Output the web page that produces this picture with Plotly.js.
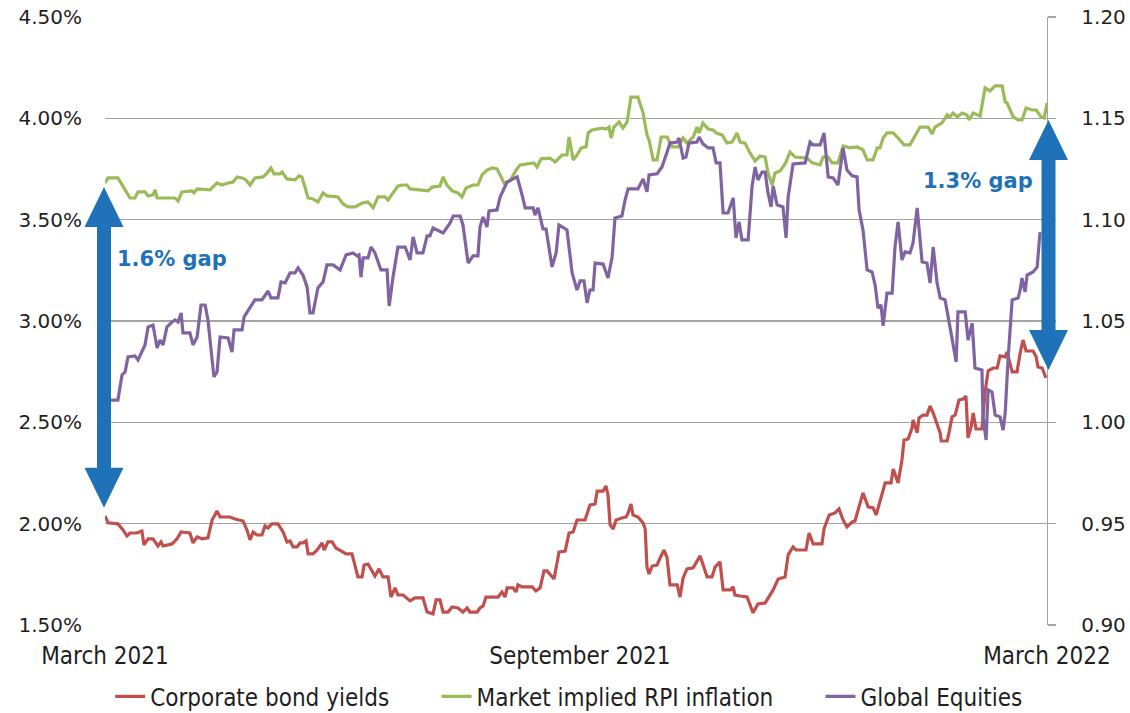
<!DOCTYPE html>
<html><head><meta charset="utf-8">
<script src="https://cdn.plot.ly/plotly-3.0.1.min.js"></script>
<style>html,body{margin:0;padding:0;background:#fff}#chart{width:1130px;height:713px}</style>
</head><body><div id="chart"></div>
<script>
// ---- data (x = days since 1 March 2021) ----
const corpDays = [0.0,1.2,5.0,7.0,8.5,9.7,12.4,14.3,15.1,16.7,18.6,20.5,21.7,22.5,26.0,27.9,29.5,32.9,34.1,35.7,37.6,39.9,41.5,43.4,44.6,48.4,50.4,53.5,55.0,56.2,57.4,58.9,60.8,62.0,63.2,64.7,67.0,69.0,70.5,71.7,72.9,74.4,75.6,76.7,77.9,78.7,80.6,82.2,84.1,84.9,86.4,88.0,89.5,91.8,93.4,95.7,96.5,98.0,99.6,100.4,101.9,103.5,104.6,106.2,107.7,109.7,110.8,112.4,113.5,115.5,118.2,120.1,123.2,124.8,127.1,128.3,129.8,131.0,132.9,134.5,136.8,138.7,140.3,141.4,144.2,145.3,146.5,147.6,152.3,153.8,155.0,155.8,158.1,159.3,160.0,161.6,165.5,167.0,168.6,170.1,171.3,174.0,175.9,178.3,179.8,181.4,182.9,186.0,187.9,189.9,190.7,193.0,194.1,194.9,195.7,196.9,198.0,200.3,201.9,202.7,203.8,204.6,206.5,208.5,209.3,210.0,210.8,212.0,213.9,215.1,216.6,217.8,218.9,221.7,222.8,224.0,225.5,227.9,230.6,233.3,235.2,236.4,238.3,239.5,242.2,243.4,244.1,246.1,248.8,251.1,253.0,255.8,257.3,258.9,260.8,263.5,264.7,266.6,267.8,271.6,272.8,274.4,277.8,278.6,280.6,282.9,284.4,286.0,287.5,289.5,290.6,292.2,293.7,295.7,297.6,298.8,300.3,302.3,304.6,305.4,306.5,307.3,308.8,309.6,311.2,312.7,313.1,314.7,315.4,317.0,318.5,319.7,320.9,322.4,323.6,324.0,326.3,327.1,328.2,329.4,330.2,330.9,332.5,333.6,334.4,335.6,336.4,337.5,339.8,341.0,342.2,344.1,345.7,346.8,348.8,349.5,351.5,353.4,354.6,355.7,356.9,359.6,360.8,361.5,363.1,364.6];
const corpYield = [2.038,2.004,1.999,1.969,1.939,1.954,1.954,1.964,1.895,1.925,1.925,1.890,1.910,1.890,1.900,1.925,1.959,1.954,1.905,1.934,1.925,1.930,2.018,2.063,2.033,2.033,2.023,2.013,1.969,1.920,1.959,1.944,1.944,1.989,1.979,1.999,1.999,1.959,1.910,1.915,1.885,1.885,1.905,1.905,1.915,1.851,1.851,1.870,1.905,1.870,1.910,1.910,1.880,1.865,1.851,1.851,1.806,1.737,1.737,1.796,1.801,1.762,1.742,1.777,1.737,1.737,1.638,1.683,1.648,1.648,1.619,1.634,1.634,1.564,1.555,1.624,1.624,1.564,1.564,1.589,1.584,1.564,1.584,1.564,1.564,1.584,1.594,1.638,1.638,1.663,1.638,1.683,1.683,1.663,1.698,1.688,1.688,1.668,1.683,1.767,1.767,1.727,1.860,1.865,1.954,1.959,2.018,2.018,2.092,2.097,2.161,2.161,2.186,2.142,1.994,1.974,2.018,2.028,2.033,2.053,2.097,2.043,2.033,2.004,1.974,1.786,1.752,1.791,1.796,1.831,1.870,1.831,1.698,1.698,1.638,1.732,1.777,1.782,1.841,1.737,1.737,1.786,1.811,1.673,1.673,1.688,1.648,1.643,1.638,1.560,1.604,1.609,1.643,1.673,1.727,1.737,1.846,1.885,1.870,1.870,1.954,1.900,1.900,1.974,2.043,2.053,2.073,2.018,1.984,2.009,2.013,2.092,2.152,2.083,2.078,2.043,2.107,2.201,2.201,2.270,2.231,2.201,2.314,2.413,2.418,2.472,2.512,2.448,2.522,2.536,2.536,2.581,2.546,2.497,2.448,2.408,2.408,2.453,2.527,2.536,2.576,2.610,2.615,2.630,2.423,2.477,2.546,2.467,2.467,2.650,2.754,2.768,2.768,2.828,2.823,2.847,2.749,2.749,2.842,2.906,2.852,2.852,2.823,2.773,2.768,2.719];

const rpiDays = [0.0,1.2,5.0,9.7,11.6,12.8,15.5,16.7,18.6,19.4,20.2,23.3,27.1,28.3,29.8,33.7,34.5,35.7,40.7,43.4,45.3,47.7,49.6,51.2,53.1,54.6,56.2,58.1,61.2,62.8,64.3,65.5,67.8,68.6,70.5,73.6,75.2,76.3,78.7,80.6,82.5,84.5,86.0,90.3,92.2,94.2,96.9,99.6,101.9,103.9,105.8,108.5,109.7,111.6,113.5,115.5,117.0,118.2,122.1,125.2,126.7,129.8,131.0,132.5,134.5,136.8,138.3,139.9,142.6,144.5,146.1,148.0,150.0,151.9,153.1,154.6,156.9,159.3,160.8,164.7,166.2,167.4,169.0,172.4,174.4,177.1,179.0,179.8,181.4,182.9,184.5,186.4,187.2,188.7,192.6,194.1,195.3,196.1,197.2,199.2,200.7,202.3,203.8,206.5,208.5,210.0,210.8,212.4,213.9,215.5,217.8,219.7,222.1,224.0,225.5,227.9,229.4,230.2,231.7,233.7,235.6,236.8,239.1,241.0,243.0,244.9,246.1,248.0,249.9,251.9,253.8,255.8,256.9,258.5,259.6,261.6,263.9,265.4,267.4,272.0,274.0,277.1,278.2,280.2,281.7,284.0,286.0,288.7,291.4,293.7,295.3,297.6,299.2,300.3,301.5,303.0,305.4,307.3,309.6,311.9,313.9,315.8,318.9,320.5,321.6,324.3,326.3,327.4,328.6,330.2,332.1,334.0,334.8,336.4,339.1,341.0,342.9,344.9,347.6,348.8,349.5,351.9,353.8,355.3,356.9,359.2,360.8,362.7,363.9,365.0];
const rpiInflation = [3.681,3.706,3.706,3.607,3.607,3.637,3.637,3.617,3.622,3.647,3.607,3.607,3.607,3.592,3.637,3.642,3.632,3.652,3.647,3.681,3.671,3.681,3.686,3.711,3.706,3.696,3.671,3.706,3.711,3.730,3.755,3.726,3.726,3.735,3.701,3.696,3.716,3.711,3.607,3.602,3.587,3.632,3.617,3.612,3.578,3.563,3.563,3.582,3.587,3.558,3.612,3.612,3.597,3.632,3.666,3.671,3.671,3.652,3.647,3.642,3.661,3.666,3.711,3.671,3.642,3.632,3.612,3.656,3.671,3.671,3.721,3.745,3.755,3.750,3.721,3.681,3.691,3.745,3.770,3.775,3.780,3.760,3.800,3.804,3.785,3.819,3.819,3.908,3.795,3.819,3.854,3.859,3.928,3.943,3.952,3.947,3.957,3.903,3.957,3.982,3.952,3.982,4.105,4.105,4.026,3.918,3.893,3.795,3.795,3.908,3.908,3.859,3.859,3.903,3.878,3.908,3.957,3.928,3.977,3.947,3.943,3.928,3.918,3.878,3.883,3.928,3.883,3.878,3.829,3.790,3.814,3.809,3.730,3.671,3.730,3.740,3.785,3.834,3.809,3.804,3.780,3.770,3.809,3.809,3.780,3.780,3.864,3.854,3.859,3.844,3.795,3.795,3.854,3.854,3.903,3.928,3.928,3.903,3.869,3.869,3.918,3.957,3.957,3.923,3.957,3.977,4.017,4.007,4.026,4.007,4.026,4.017,3.992,4.026,4.012,4.150,4.135,4.160,4.160,4.081,4.076,4.007,3.992,3.992,4.051,4.041,4.041,4.007,4.002,4.076];

const equityDays = [1.9,5.0,6.6,7.8,8.9,11.6,12.8,14.3,15.5,16.7,18.6,20.2,21.3,22.5,24.0,26.0,27.1,28.3,29.5,30.2,32.9,34.1,35.7,37.2,38.8,39.9,41.5,42.2,43.4,44.6,47.7,49.2,50.0,53.1,53.9,56.2,58.1,60.8,63.2,64.3,67.0,68.2,69.8,71.7,73.6,74.8,76.7,78.3,79.4,80.6,82.5,84.5,86.0,88.4,91.1,93.4,96.1,97.7,98.4,99.2,100.0,101.9,103.1,104.6,106.9,109.3,110.1,111.6,113.5,116.3,118.2,119.4,120.9,123.2,124.8,125.9,127.1,131.0,133.7,134.9,137.6,138.7,140.7,142.6,144.5,145.3,146.5,148.0,148.8,151.9,153.1,155.8,158.9,159.7,161.6,162.8,165.9,166.6,167.8,169.7,170.9,173.2,174.8,175.9,179.0,181.0,182.9,184.1,185.6,186.8,187.9,189.1,189.9,193.0,194.9,196.5,197.6,200.3,201.5,202.7,206.5,208.5,210.0,210.8,213.9,215.8,217.8,218.9,221.7,222.4,224.0,225.1,226.3,229.4,230.2,231.7,233.7,235.6,236.8,238.3,239.5,241.4,243.4,244.5,245.7,246.8,249.2,250.7,251.9,253.0,254.6,255.8,256.9,258.1,258.9,260.4,262.7,263.9,264.7,266.6,271.3,273.2,274.4,277.1,278.6,280.2,282.1,284.0,286.0,287.5,289.5,291.4,292.2,293.7,295.3,297.2,298.4,299.5,300.7,301.5,303.0,305.0,306.1,307.3,308.8,310.0,311.9,313.1,314.7,316.6,318.5,319.7,320.9,322.4,323.6,325.5,327.4,328.6,329.8,330.5,333.3,334.4,336.0,337.1,339.8,340.2,341.4,342.2,343.7,344.9,346.8,348.0,348.8,349.9,351.5,353.8,354.6,355.3,356.5,357.3,359.6,361.2,362.3];
const equityIndex = [1.0110,1.0110,1.0234,1.0249,1.0323,1.0328,1.0308,1.0347,1.0382,1.0471,1.0480,1.0367,1.0406,1.0382,1.0471,1.0495,1.0505,1.0495,1.0540,1.0441,1.0441,1.0382,1.0421,1.0579,1.0579,1.0505,1.0323,1.0224,1.0249,1.0421,1.0416,1.0347,1.0456,1.0456,1.0520,1.0564,1.0604,1.0604,1.0648,1.0614,1.0614,1.0693,1.0688,1.0737,1.0737,1.0762,1.0727,1.0668,1.0540,1.0540,1.0663,1.0693,1.0777,1.0777,1.0752,1.0826,1.0836,1.0821,1.0826,1.0717,1.0811,1.0811,1.0865,1.0836,1.0752,1.0752,1.0574,1.0717,1.0865,1.0865,1.0801,1.0915,1.0836,1.0836,1.0920,1.0920,1.0959,1.0934,1.0984,1.1018,1.1018,1.0974,1.0786,1.0821,1.0821,1.0964,1.1013,1.0964,1.1043,1.1048,1.1112,1.1186,1.1206,1.1211,1.1122,1.1058,1.1058,1.1023,1.1058,1.0954,1.0954,1.0767,1.0836,1.0974,1.0949,1.0737,1.0653,1.0698,1.0698,1.0589,1.0653,1.0653,1.0786,1.0781,1.0712,1.0816,1.1008,1.1018,1.1097,1.1152,1.1152,1.1201,1.1137,1.1221,1.1226,1.1260,1.1334,1.1378,1.1383,1.1403,1.1304,1.1309,1.1378,1.1383,1.1408,1.1374,1.1354,1.1354,1.1280,1.1280,1.1033,1.1033,1.1107,1.0910,1.0989,1.0900,1.0900,1.1161,1.1260,1.1196,1.1235,1.1235,1.1132,1.1063,1.1166,1.1073,1.1063,1.0910,1.1112,1.1275,1.1280,1.1383,1.1369,1.1369,1.1428,1.1211,1.1206,1.1171,1.1354,1.1245,1.1216,1.1211,1.1048,1.0949,1.0752,1.0742,1.0678,1.0564,1.0579,1.0476,1.0638,1.0638,1.0865,1.0989,1.0801,1.0841,1.0836,1.0885,1.1058,1.0791,1.0786,1.0688,1.0865,1.0688,1.0614,1.0604,1.0471,1.0372,1.0298,1.0545,1.0545,1.0406,1.0490,1.0268,1.0258,1.0027,0.9913,1.0160,1.0150,1.0036,1.0027,0.9962,1.0046,1.0308,1.0604,1.0614,1.0653,1.0712,1.0643,1.0727,1.0742,1.0767,1.0939];

const seriesNames = ['Corporate bond yields','Market implied RPI inflation','Global Equities'];
const xTickVals = [0, 184, 365];
const xTickText = ['March 2021','September 2021','March 2022'];
// gap annotations: arrow ends on the left (% yield) axis
const gapNotes = [
  {text:'1.6% gap', labelDay:26, labelValue:3.306, top:3.661, bottom:2.078, side:'left'},
  {text:'1.3% gap', labelDay:338.3, labelValue:3.691, top:3.992, bottom:2.758, side:'right'}
];

// ---- styling ----
const RED='#C0504D', GREEN='#9BBB59', PURPLE='#8064A2', BLUE='#1F72B8';
const GRID='#A3A3A3';
const TXT='#1f1f1f';
const condensed='"DejaVu Sans Condensed", "Liberation Sans Narrow", "DejaVu Sans", sans-serif';
const yRange=[1.5,4.5];
const W=1130,H=713, M={l:105,r:83,t:17,b:88};
const plotW=W-M.l-M.r, plotH=H-M.t-M.b;
const legendX=[0.0055, 0.352, 0.7595];

const traces=[
  {x:corpDays,y:corpYield,name:seriesNames[0],type:'scatter',mode:'lines',line:{color:RED,width:3.2},yaxis:'y',legend:'legend'},
  {x:rpiDays,y:rpiInflation,name:seriesNames[1],type:'scatter',mode:'lines',line:{color:GREEN,width:3.2},yaxis:'y',legend:'legend2'},
  {x:equityDays,y:equityIndex,name:seriesNames[2],type:'scatter',mode:'lines',line:{color:PURPLE,width:3.2},yaxis:'y2',legend:'legend3'}
];

const toPaperY=v=>(v-yRange[0])/(yRange[1]-yRange[0]);
const headLen=40, headHalf=19.5, shaftW=14;
const headPaper=headLen/plotH;
const shapes=[], annotations=[];
gapNotes.forEach(g=>{
  const xp = g.side==='left' ? -1/plotW : 1.5/plotW+1;
  const yt=toPaperY(g.top), yb=toPaperY(g.bottom);
  shapes.push({type:'line',xref:'paper',yref:'paper',x0:xp,x1:xp,y0:yt-headPaper+0.004,y1:yb+headPaper-0.004,line:{color:BLUE,width:shaftW},layer:'above'});
  shapes.push({type:'path',xref:'paper',yref:'paper',xsizemode:'pixel',ysizemode:'pixel',xanchor:xp,yanchor:yt,
    path:'M'+(-headHalf)+','+(-headLen)+' L'+headHalf+','+(-headLen)+' L0,0 Z',fillcolor:BLUE,line:{width:0},layer:'above'});
  shapes.push({type:'path',xref:'paper',yref:'paper',xsizemode:'pixel',ysizemode:'pixel',xanchor:xp,yanchor:yb,
    path:'M'+(-headHalf)+','+headLen+' L'+headHalf+','+headLen+' L0,0 Z',fillcolor:BLUE,line:{width:0},layer:'above'});
  annotations.push({text:'<b>'+g.text+'</b>',x:g.labelDay,y:g.labelValue,xref:'x',yref:'y',showarrow:false,
    font:{family:'"DejaVu Sans", sans-serif',size:21,color:BLUE},xanchor:'center',yanchor:'middle'});
});

const legendBase={orientation:'h',xanchor:'left',y:-0.118,yanchor:'middle',
  font:{family:condensed,size:24,color:TXT},itemwidth:30,bgcolor:'rgba(0,0,0,0)'};

const layout={
  width:W,height:H,
  margin:{l:M.l,r:M.r,t:M.t,b:M.b,autoexpand:false},
  paper_bgcolor:'#fff',plot_bgcolor:'#fff',
  showlegend:true,
  legend:Object.assign({},legendBase,{x:legendX[0]}),
  legend2:Object.assign({},legendBase,{x:legendX[1]}),
  legend3:Object.assign({},legendBase,{x:legendX[2]}),
  xaxis:{range:[0,365],tickvals:xTickVals,ticktext:xTickText,showgrid:false,zeroline:false,showline:false,
    ticks:'',tickfont:{family:condensed,size:24,color:TXT},ticklabelstandoff:14},
  yaxis:{range:yRange,dtick:0.5,tick0:1.5,tickformat:'.2f',ticksuffix:'%',showgrid:true,gridcolor:GRID,gridwidth:1.3,
    zeroline:false,showline:false,ticks:'',tickfont:{family:'"DejaVu Sans", sans-serif',size:20,color:TXT},ticklabelstandoff:22},
  yaxis2:{range:[0.9,1.2],dtick:0.05,tick0:0.9,tickformat:'.2f',overlaying:'y',side:'right',showgrid:false,zeroline:false,
    showline:true,linecolor:GRID,linewidth:1.3,ticks:'outside',ticklen:8,tickcolor:GRID,tickwidth:1.3,
    tickfont:{family:'"DejaVu Sans", sans-serif',size:20,color:TXT},ticklabelstandoff:21},
  shapes:shapes,
  annotations:annotations
};
Plotly.newPlot('chart',traces,layout,{staticPlot:true,displayModeBar:false});
</script>
</body></html>
